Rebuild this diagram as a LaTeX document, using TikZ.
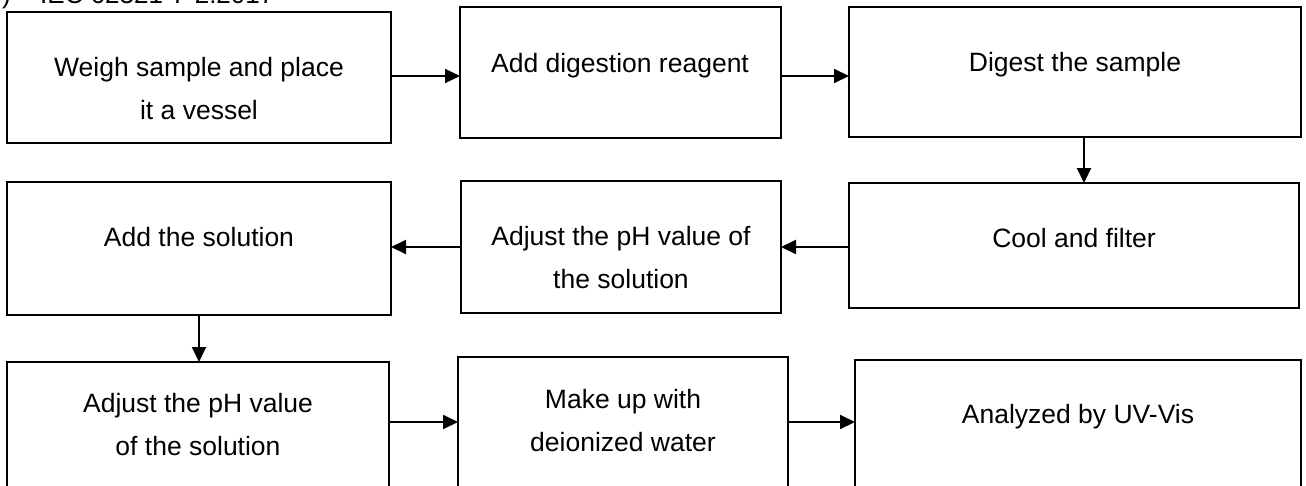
\documentclass[tikz,border=0pt]{standalone}
\usepackage{fontspec}
\setmainfont{Liberation Sans}
\usetikzlibrary{arrows.meta}
\begin{document}
\begin{tikzpicture}[x=1pt,y=-1pt,
  box/.style={draw, line width=2.2pt, inner sep=0pt, outer sep=0pt, anchor=north west, fill=white},
  txt/.style={inner sep=0pt, anchor=north, align=center, font=\fontsize{26.5}{43}\selectfont},
  arr/.style={line width=2pt, -{Triangle[length=15pt,width=14pt]}}]
\useasboundingbox (0,0) rectangle (1306,485);
\clip (0,0) rectangle (1306,485);
% partially visible title
\node[inner sep=0pt, anchor=base east, font=\fontsize{26}{30}\selectfont] (ta) at (11,3) {b)};
\node[inner sep=0pt, anchor=base west, font=\fontsize{26}{30}\selectfont] (tb) at (40,3) {IEC 62321-7-2:2017};
% boxes
\node[box, minimum width=384pt, minimum height=131pt] (B1) at (7,12) {};
\node[box, minimum width=321pt, minimum height=131pt] (B2) at (460,7) {};
\node[box, minimum width=452pt, minimum height=130pt] (B3) at (849,7) {};
\node[box, minimum width=450pt, minimum height=125pt] (B4) at (849,183) {};
\node[box, minimum width=320pt, minimum height=132pt] (B5) at (461,181) {};
\node[box, minimum width=384pt, minimum height=133pt] (B6) at (7,182) {};
\node[box, minimum width=382pt, minimum height=160pt] (B7) at (7,362) {};
\node[box, minimum width=330pt, minimum height=160pt] (B8) at (458,357) {};
\node[box, minimum width=446pt, minimum height=160pt] (B9) at (855,360) {};
% texts
\node[txt] (T1) at (199,57) {Weigh sample and place\\it a vessel};
\node[txt] (T2) at (620,53) {Add digestion reagent};
\node[txt] (T3) at (1075,52) {Digest the sample};
\node[txt] (T4) at (1074,228) {Cool and filter};
\node[txt] (T5) at (621,226) {Adjust the pH value of\\the solution};
\node[txt] (T6) at (199,227) {Add the solution};
\node[txt] (T7) at (198,393) {Adjust the pH value\\of the solution};
\node[txt] (T8) at (623,389) {Make up with\\deionized water};
\node[txt] (T9) at (1078,404) {Analyzed by UV-Vis};
% helper coordinates
\coordinate (ya) at (0,76);
\coordinate (yb) at (0,247);
\coordinate (yc) at (0,422);
\coordinate (xa) at (1084,0);
\coordinate (xb) at (199,0);
% connectors
\draw[arr] (B1.east |- ya) -- (B2.west |- ya);
\draw[arr] (B2.east |- ya) -- (B3.west |- ya);
\draw[arr] (B3.south -| xa) -- (B4.north -| xa);
\draw[arr] (B4.west |- yb) -- (B5.east |- yb);
\draw[arr] (B5.west |- yb) -- (B6.east |- yb);
\draw[arr] (B6.south -| xb) -- (B7.north -| xb);
\draw[arr] (B7.east |- yc) -- (B8.west |- yc);
\draw[arr] (B8.east |- yc) -- (B9.west |- yc);
\end{tikzpicture}
\end{document}
